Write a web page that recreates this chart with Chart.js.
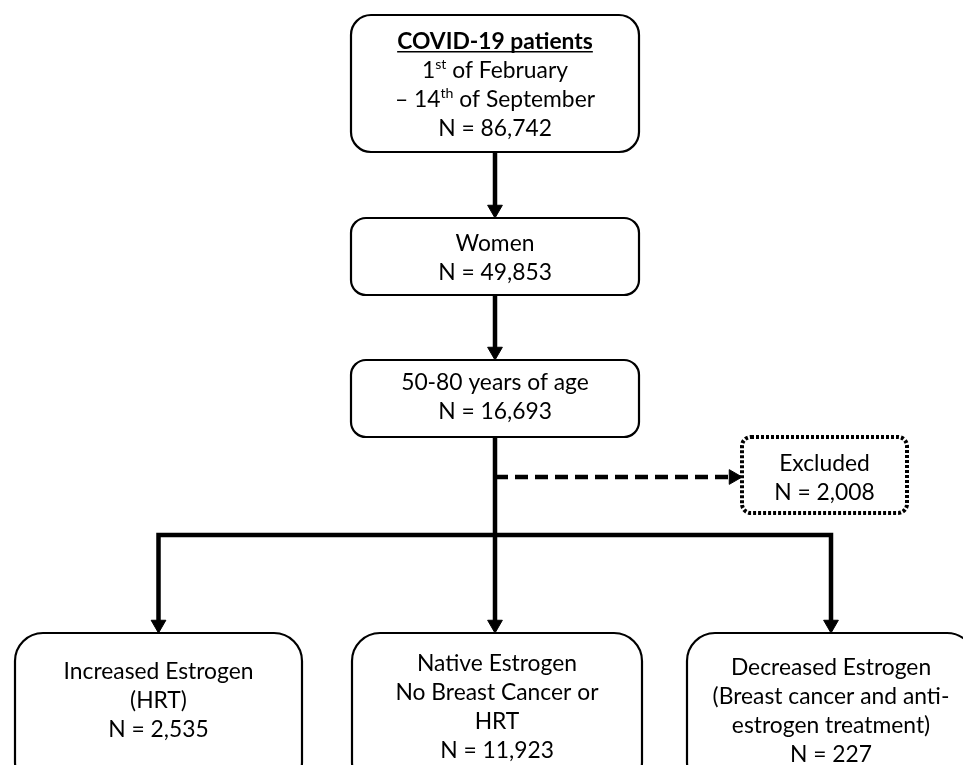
<!DOCTYPE html>
<html lang="en">
<head>
  <meta charset="UTF-8" />
  <title>COVID-19 estrogen cohort flowchart</title>
  <script src="https://cdn.jsdelivr.net/npm/chart.js"></script>
  <style>
    body {
      margin: 0;
      background: #ffffff;
    }
    .wrap {
      width: 963px;
      height: 765px;
    }
  </style>
</head>
<body>
  <div class="wrap">
    <canvas id="flow" width="963" height="765"></canvas>
  </div>

  <script>
    // node text (^{..} marks superscript), first line of node 0 is the bold title
    const nodeLines = [
      ['COVID-19 patients', '1^{st} of February', '– 14^{th} of September'],
      ['Women'],
      ['50-80 years of age'],
      ['Excluded'],
      ['Increased Estrogen', '(HRT)'],
      ['Native Estrogen', 'No Breast Cancer or', 'HRT'],
      ['Decreased Estrogen', '(Breast cancer and anti-', 'estrogen treatment)']
    ];
    const nodeCounts = [86742, 49853, 16693, 2008, 2535, 11923, 227];

    // which node feeds which: [from, to, kind]
    const edges = [
      [0, 1, 'solid'],
      [1, 2, 'solid'],
      [2, 3, 'dashed'],
      [2, 4, 'branch'],
      [2, 5, 'branch'],
      [2, 6, 'branch']
    ];

    // layout of the boxes in page units: left, top, right, bottom, radius, text centre
    const layout = [
      { l: 351, t: 15,  r: 639, b: 152, rad: 20, ty: 84 },
      { l: 351, t: 218, r: 639, b: 295, rad: 15, ty: 257 },
      { l: 351, t: 360, r: 639, b: 437, rad: 15, ty: 396 },
      { l: 742, t: 437, r: 907, b: 513, rad: 9,  ty: 477, dotted: true },
      { l: 15,  t: 633, r: 302, b: 790, rad: 28, ty: 700 },
      { l: 352, t: 633, r: 642, b: 790, rad: 28, ty: 706 },
      { l: 687, t: 633, r: 975, b: 790, rad: 28, ty: 710 }
    ];
    const branchY = 535;
    const dashY = 477;
    const headR = 8.5;
    const lineH = 29;

    const cx = i => (layout[i].l + layout[i].r) / 2;
    const trunkX = cx(2);

    const datasets = [];
    const tips = [];
    const tipRot = [];
    edges.forEach(([from, to, kind]) => {
      const a = layout[from], b = layout[to];
      let pts;
      if (kind === 'solid') {
        pts = [{ x: trunkX, y: a.b }, { x: trunkX, y: b.t - headR * 1.4 }];
        tips.push({ x: trunkX, y: b.t - headR }); tipRot.push(180);
      } else if (kind === 'dashed') {
        pts = [{ x: trunkX, y: dashY }, { x: b.l - headR * 1.4, y: dashY }];
        tips.push({ x: b.l - headR, y: dashY }); tipRot.push(90);
      } else {
        const tx = Math.abs(cx(to) - trunkX) < 10 ? trunkX : cx(to);
        if (tx === trunkX) {
          pts = [{ x: trunkX, y: a.b }, { x: trunkX, y: b.t - headR * 1.4 }];
        } else {
          pts = [{ x: trunkX, y: branchY }, { x: tx, y: branchY }, { x: tx, y: b.t - headR * 1.4 }];
        }
        tips.push({ x: tx, y: b.t - headR }); tipRot.push(180);
      }
      datasets.push({
        type: 'scatter',
        data: pts,
        showLine: true,
        borderColor: '#000',
        borderWidth: 4.5,
        borderDash: kind === 'dashed' ? [13, 7] : [],
        borderCapStyle: 'butt',
        borderJoinStyle: 'miter',
        pointRadius: 0,
        tension: 0
      });
    });
    datasets.push({
      type: 'scatter',
      data: tips,
      pointStyle: 'triangle',
      rotation: tipRot,
      pointRadius: headR,
      pointBackgroundColor: '#000',
      pointBorderColor: '#000',
      pointBorderWidth: 1
    });

    function parseLine(s) {
      const segs = [];
      const re = /\^\{([^}]*)\}/g;
      let last = 0, m;
      while ((m = re.exec(s))) {
        if (m.index > last) segs.push({ t: s.slice(last, m.index), sup: false });
        segs.push({ t: m[1], sup: true });
        last = re.lastIndex;
      }
      if (last < s.length) segs.push({ t: s.slice(last), sup: false });
      return segs;
    }

    const boxPlugin = {
      id: 'boxes',
      afterDatasetsDraw(chart) {
        const ctx = chart.ctx;
        const xs = chart.scales.x, ys = chart.scales.y;
        const family = 'Lato, "Open Sans", sans-serif';
        ctx.save();
        ctx.font = '24px ' + family;
        const fs = 24 * 190 / ctx.measureText('Increased Estrogen').width;
        const supFs = fs * 0.62;

        layout.forEach((box, i) => {
          const x0 = xs.getPixelForValue(box.l), x1 = xs.getPixelForValue(box.r);
          const y0 = ys.getPixelForValue(box.t), y1 = ys.getPixelForValue(box.b);
          ctx.beginPath();
          ctx.roundRect(x0, y0, x1 - x0, y1 - y0, box.rad);
          ctx.fillStyle = '#fff';
          ctx.fill();
          ctx.strokeStyle = '#000';
          if (box.dotted) {
            ctx.lineWidth = 4;
            ctx.setLineDash([3, 2]);
          } else {
            ctx.lineWidth = 2.2;
            ctx.setLineDash([]);
          }
          ctx.stroke();
          ctx.setLineDash([]);

          const lines = nodeLines[i].concat(['N = ' + nodeCounts[i].toLocaleString('en-US')]);
          const midX = (x0 + x1) / 2;
          const startY = ys.getPixelForValue(box.ty) - (lines.length - 1) * lineH / 2;
          ctx.fillStyle = '#000';
          ctx.textBaseline = 'alphabetic';
          lines.forEach((line, k) => {
            const bold = i === 0 && k === 0;
            const segs = parseLine(line);
            const fontFor = sg => (bold ? 'bold ' : '') + (sg.sup ? supFs : fs) + 'px ' + family;
            let total = 0;
            segs.forEach(sg => { ctx.font = fontFor(sg); sg.w = ctx.measureText(sg.t).width; total += sg.w; });
            let x = midX - total / 2;
            const base = startY + k * lineH + fs * 0.36;
            segs.forEach(sg => {
              ctx.font = fontFor(sg);
              ctx.textAlign = 'left';
              ctx.fillText(sg.t, x, sg.sup ? base - fs * 0.38 : base);
              x += sg.w;
            });
            if (bold) {
              ctx.lineWidth = 1.6;
              ctx.beginPath();
              ctx.moveTo(midX - total / 2, base + 3);
              ctx.lineTo(midX + total / 2, base + 3);
              ctx.stroke();
            }
          });
        });
        ctx.restore();
      }
    };

    new Chart(document.getElementById('flow'), {
      type: 'scatter',
      data: { datasets: datasets },
      options: {
        responsive: false,
        animation: false,
        layout: { padding: 0, autoPadding: false },
        scales: {
          x: { type: 'linear', min: 0, max: 963, display: false },
          y: { type: 'linear', min: 0, max: 765, reverse: true, display: false }
        },
        plugins: {
          legend: { display: false },
          tooltip: { enabled: false }
        }
      },
      plugins: [boxPlugin]
    });
  </script>
</body>
</html>
